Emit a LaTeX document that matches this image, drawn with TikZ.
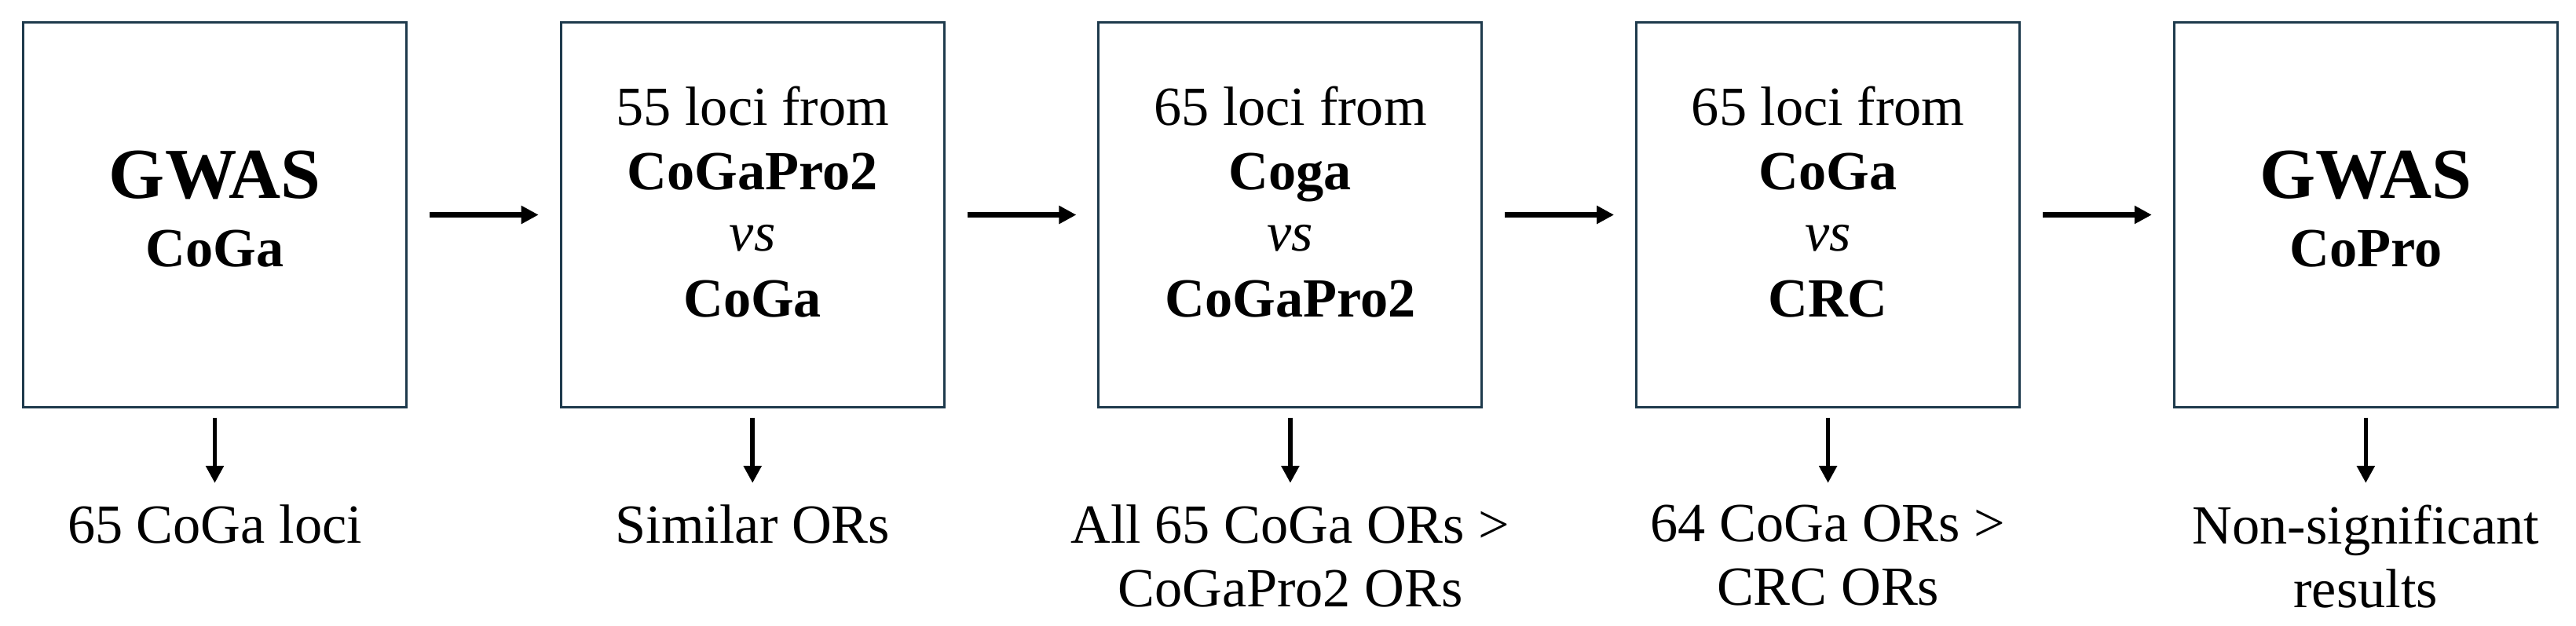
\documentclass[tikz,border=0pt]{standalone}
\usepackage{fontspec}
\setmainfont{Liberation Serif}
\usetikzlibrary{arrows.meta, positioning}
\definecolor{boxcolor}{HTML}{1E3A4C}
\def\pitch{6.847}
\def\bx{2.735}
\def\by{-2.735}
\def\ly{-6.42}

\begin{document}
\begin{tikzpicture}[
    every node/.style={font=\fontsize{20}{23}\selectfont, inner sep=0pt},
    box/.style={draw=boxcolor, line width=0.85pt, minimum width=4.88cm, minimum height=4.90cm},
    txt/.style={anchor=base},
    head/.style={anchor=base, font=\fontsize{26}{30}\selectfont\bfseries},
    result/.style={align=center, anchor=north},
    arr/.style={-{Triangle[length=0.22cm, width=0.22cm]}, line width=1.9pt, black,
                shorten <=0.28cm, shorten >=0.27cm},
    down/.style={-{Triangle[length=0.22cm, width=0.22cm]}, line width=1.6pt, black,
                 shorten <=0.12cm, shorten >=0.27cm},
]
\useasboundingbox (0,0) rectangle (32.80,-7.97);

% ---------------------------------------------------------- boxes
\foreach \i in {1,...,5} {
  \node[box] (b\i) at ({\bx+(\i-1)*\pitch}, \by) {};
}

% ---------------------------------------------------------- GWAS boxes
\foreach \i/\s in {1/CoGa, 5/CoPro} {
  \node[head] (g\i) at ({\bx+(\i-1)*\pitch}, -2.53) {GWAS};
  \node[txt]  (s\i) at ({\bx+(\i-1)*\pitch}, -3.39) {\textbf{\s}};
}

% ---------------------------------------------------------- comparison boxes
\foreach \i/\n/\a/\b in {2/55/CoGaPro2/CoGa, 3/65/Coga/CoGaPro2, 4/65/CoGa/CRC} {
  \node[txt] (top\i) at ({\bx+(\i-1)*\pitch}, -1.60) {\n{} loci from};
  \node[txt] (one\i) at ({\bx+(\i-1)*\pitch}, -2.41) {\textbf{\a}};
  \node[txt] (vs\i)  at ({\bx+(\i-1)*\pitch}, -3.19) {\textit{vs}};
  \node[txt] (two\i) at ({\bx+(\i-1)*\pitch}, -4.03) {\textbf{\b}};
}

% ---------------------------------------------------------- flow
\foreach \i/\j in {1/2, 2/3, 3/4, 4/5} {
  \draw[arr] (b\i) -- (b\j);
}

% ---------------------------------------------------------- results
\foreach \i/\t in {1/{65 CoGa loci}, 2/{Similar ORs},
    3/{All 65 CoGa ORs >\\CoGaPro2 ORs}, 4/{64 CoGa ORs >\\CRC ORs},
    5/{Non-significant\\results}} {
  \node[result] (r\i) at ({\bx+(\i-1)*\pitch}, \ly) {\t};
  \draw[down] (b\i.south) -- (r\i.north);
}

\end{tikzpicture}
\end{document}
